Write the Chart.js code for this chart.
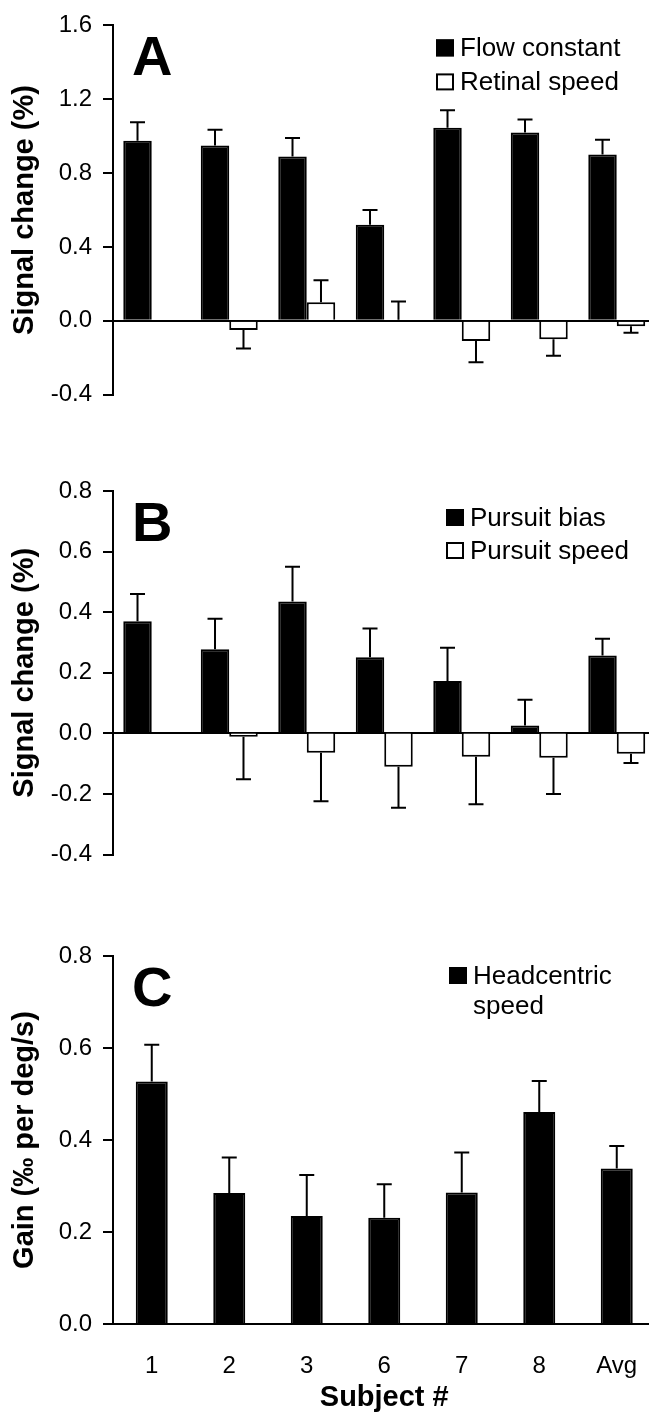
<!DOCTYPE html>
<html>
<head>
<meta charset="utf-8">
<script src="https://cdn.jsdelivr.net/npm/chart.js@4.4.1/dist/chart.umd.min.js"></script>
<style>
html,body{margin:0;padding:0;background:#fff}
#wrap{position:relative;width:649px;height:1412px;overflow:hidden;background:#fff}
canvas{position:absolute;left:0}
</style>
</head>
<body>
<div id="wrap">
<canvas id="chartA" width="660" height="420" style="top:0px"></canvas>
<canvas id="chartB" width="660" height="440" style="top:440px"></canvas>
<canvas id="chartC" width="660" height="532" style="top:880px"></canvas>
</div>
<script>
const subjects = ["1","2","3","6","7","8","Avg"]

// panel A
const flowConstant    = [0.975, 0.95, 0.89, 0.52, 1.045, 1.02, 0.90]
const flowConstantErr = [0.10, 0.085, 0.10, 0.08, 0.095, 0.07, 0.08]
const retinalSpeed    = [null, -0.05, 0.10, 0.005, -0.11, -0.10, -0.03]
const retinalSpeedErr = [0, 0.10, 0.12, 0.10, 0.115, 0.09, 0.035]
const yRangeA = [-0.4, 1.6, 0.4]

// panel B
const pursuitBias     = [0.37, 0.278, 0.435, 0.251, 0.173, 0.026, 0.257]
const pursuitBiasErr  = [0.09, 0.10, 0.115, 0.095, 0.11, 0.085, 0.055]
const pursuitSpeed    = [null, -0.011, -0.064, -0.11, -0.077, -0.08, -0.067]
const pursuitSpeedErr = [0, 0.14, 0.16, 0.135, 0.157, 0.12, 0.031]
const yRangeB = [-0.4, 0.8, 0.2]

// panel C
const headcentric     = [0.527, 0.285, 0.235, 0.231, 0.286, 0.461, 0.338]
const headcentricErr  = [0.08, 0.077, 0.089, 0.073, 0.087, 0.067, 0.049]
const yRangeC = [0, 0.8, 0.2]

const FONT = "'Liberation Sans', Arial, Helvetica, sans-serif"

// error bars drawn from each bar element and the y scale
const errorBars = {
id:"errorBars",
afterDatasetsDraw(chart){
const ctx = chart.ctx
const y = chart.scales.y
ctx.save()
ctx.strokeStyle = "#000"
ctx.lineWidth = 2
chart.data.datasets.forEach((ds,i)=>{
if(!ds.errors) return
chart.getDatasetMeta(i).data.forEach((bar,j)=>{
const v = ds.data[j]
if(v === null || v === undefined) return
const dir = v >= 0 ? 1 : -1
const tip = y.getPixelForValue(v + dir*ds.errors[j])
ctx.beginPath()
ctx.moveTo(bar.x, bar.y)
ctx.lineTo(bar.x, tip)
ctx.moveTo(bar.x-7.5, tip)
ctx.lineTo(bar.x+7.5, tip)
ctx.stroke()
})
})
ctx.restore()
}
}

// panel letter + legend in the top right
const panelDecor = {
id:"panelDecor",
afterDraw(chart,args,opts){
const ctx = chart.ctx
const top = chart.chartArea.top
ctx.save()
ctx.fillStyle = "#000"
ctx.font = "bold 56px " + FONT
ctx.textBaseline = "alphabetic"
ctx.fillText(opts.letter, 132, top + 50)
ctx.font = "26px " + FONT
chart.data.datasets.forEach((ds,i)=>{
const base = top + opts.rows[i]
ctx.fillStyle = ds.backgroundColor
ctx.fillRect(opts.x, base-17, 18, 17)
ctx.strokeStyle = "#000"
ctx.lineWidth = 2
ctx.strokeRect(opts.x+1, base-16, 16, 15)
ctx.fillStyle = "#000"
const lines = ds.label.split("\n")
lines.forEach((t,k)=>{
ctx.fillText(t, opts.x + 24, base + k*30)
})
})
ctx.restore()
}
}

function makeChart(id, cfg){
const datasets = cfg.series.map(s=>({
label:s.label,
data:s.data,
errors:s.err,
backgroundColor:s.fill,
borderColor:"#000",
borderWidth:2,
categoryPercentage:cfg.catPct,
barPercentage:1
}))
return new Chart(document.getElementById(id),{
type:"bar",
data:{labels:subjects, datasets:datasets},
plugins:[errorBars, panelDecor],
options:{
responsive:false,
animation:false,
devicePixelRatio:1,
layout:{padding:{top:cfg.padTop, bottom:cfg.padBottom, left:0, right:4.5}},
plugins:{
legend:{display:false},
tooltip:{enabled:false},
panelDecor:{letter:cfg.letter, x:cfg.legendX, rows:cfg.rows}
},
scales:{
x:{
display:cfg.showX,
grid:{display:false},
border:{display:false},
ticks:{color:"#000", font:{family:FONT, size:24}, padding:20, maxRotation:0},
title:{display:true, text:"Subject #", color:"#000", font:{family:FONT, size:29, weight:"bold", lineHeight:1}, padding:{top:0,bottom:0}},
afterFit(s){ if(cfg.showX) s.height = 88 }
},
y:{
z:1,
min:cfg.range[0],
max:cfg.range[1],
ticks:{stepSize:cfg.range[2], color:"#000", padding:11, font:{family:FONT, size:24}, callback:v=>v.toFixed(1)},
grid:{
color:c=>Math.abs(c.tick.value) < 1e-9 ? "#000" : "rgba(0,0,0,0)",
lineWidth:2,
tickColor:"#000",
tickLength:10,
tickWidth:2
},
border:{display:true, color:"#000", width:2},
title:{display:true, text:cfg.yTitle, color:"#000", font:{family:FONT, size:29, weight:"bold"}, padding:{top:8,bottom:0}},
afterFit(s){ s.width = 113 }
}
}
}
})
}

makeChart("chartA",{
letter:"A",
series:[
{label:"Flow constant", data:flowConstant, err:flowConstantErr, fill:"#000"},
{label:"Retinal speed", data:retinalSpeed, err:retinalSpeedErr, fill:"#fff"}
],
catPct:0.735, range:yRangeA, yTitle:"Signal change (%)",
padTop:23, padBottom:24, showX:false, legendX:436, rows:[31,65]
})

makeChart("chartB",{
letter:"B",
series:[
{label:"Pursuit bias", data:pursuitBias, err:pursuitBiasErr, fill:"#000"},
{label:"Pursuit speed", data:pursuitSpeed, err:pursuitSpeedErr, fill:"#fff"}
],
catPct:0.735, range:yRangeB, yTitle:"Signal change (%)",
padTop:51, padBottom:16, showX:false, legendX:446, rows:[35,68]
})

makeChart("chartC",{
letter:"C",
series:[
{label:"Headcentric\nspeed", data:headcentric, err:headcentricErr, fill:"#000"}
],
catPct:0.413, range:yRangeC, yTitle:"Gain (\u2030 per deg/s)",
padTop:76, padBottom:0, showX:true, legendX:449, rows:[28]
})
</script>
</body>
</html>
